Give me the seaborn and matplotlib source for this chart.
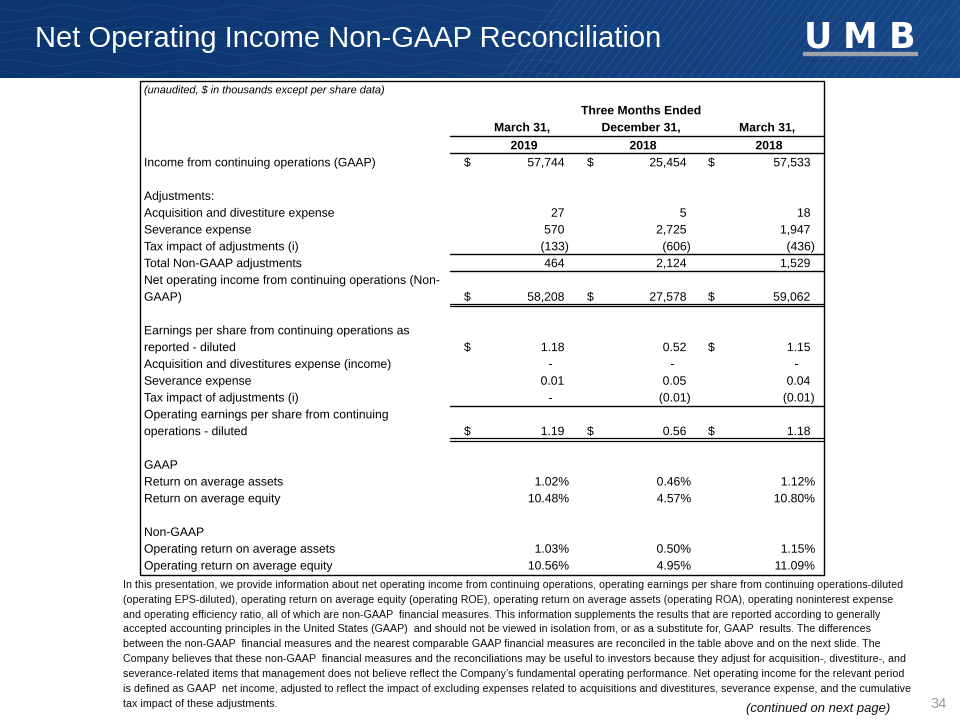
import numpy as np
import matplotlib
matplotlib.use("Agg")
import matplotlib.pyplot as plt
import matplotlib.patheffects as pe
import seaborn as sns
from matplotlib.patches import Rectangle

# ---------------- data ----------------
title = "Net Operating Income Non-GAAP Reconciliation"
unit_note = "(unaudited, $ in thousands except per share data)"
period_group = "Three Months Ended"
period_top = ["March 31,", "December 31,", "March 31,"]
period_year = ["2019", "2018", "2018"]

income_gaap = [57744, 25454, 57533]
acq_expense = [27, 5, 18]
severance_expense = [570, 2725, 1947]
tax_impact = [-133, -606, -436]
total_adjustments = [464, 2124, 1529]
net_operating_income = [58208, 27578, 59062]

eps_reported = [1.18, 0.52, 1.15]
eps_acq = [0.0, 0.0, 0.0]
eps_severance = [0.01, 0.05, 0.04]
eps_tax = [0.0, -0.01, -0.01]
operating_eps = [1.19, 0.56, 1.18]

roa = [1.02, 0.46, 1.12]
roe = [10.48, 4.57, 10.80]
op_roa = [1.03, 0.50, 1.15]
op_roe = [10.56, 4.95, 11.09]

footnote_lines = [
    "In this presentation, we provide information about net operating income from continuing operations, operating earnings per share from continuing operations-diluted",
    "(operating EPS-diluted), operating return on average equity (operating ROE), operating return on average assets (operating ROA), operating noninterest expense",
    "and operating efficiency ratio, all of which are non-GAAP  financial measures. This information supplements the results that are reported according to generally",
    "accepted accounting principles in the United States (GAAP)  and should not be viewed in isolation from, or as a substitute for, GAAP  results. The differences",
    "between the non-GAAP  financial measures and the nearest comparable GAAP financial measures are reconciled in the table above and on the next slide. The",
    "Company believes that these non-GAAP  financial measures and the reconciliations may be useful to investors because they adjust for acquisition-, divestiture-, and",
    "severance-related items that management does not believe reflect the Company\u2019s fundamental operating performance. Net operating income for the relevant period",
    "is defined as GAAP  net income, adjusted to reflect the impact of excluding expenses related to acquisitions and divestitures, severance expense, and the cumulative",
    "tax impact of these adjustments.",
]
continued = "(continued on next page)"
page_no = "34"
logo_letters = ["U", "M", "B"]

# ---------------- style ----------------
sns.set_theme(style="white")
plt.rcParams["font.family"] = ["Liberation Sans", "DejaVu Sans"]

W, H = 960, 720
fig = plt.figure(figsize=(9.6, 7.2), dpi=100)
ax = fig.add_axes([0, 0, 1, 1])
ax.set_xlim(0, W)
ax.set_ylim(H, 0)
ax.axis("off")

# banner
grad = np.linspace(0, 1, 256).reshape(1, -1)
cmap = matplotlib.colors.LinearSegmentedColormap.from_list("b", ["#0c356f", "#113d7a", "#164787"])
ax.imshow(grad, extent=(0, W, 78, 0), cmap=cmap, aspect="auto", zorder=0)
xs = np.linspace(0, 560, 400)
for k in range(7):
    ax.plot(xs, 8 + k * 11 + 3 * np.sin(xs / 14 + k * 0.8), color="#2f7a8c", lw=0.6, alpha=0.3, zorder=1)
for x0 in np.arange(560, 1060, 9):
    ax.plot([x0, x0 - 60], [0, 78], color="#4d77aa", lw=0.6, alpha=0.4, zorder=1)
ax.set_ylim(H, 0)
ax.set_xlim(0, W)
ax.text(35, 39, title, color="white", fontsize=21, va="center", ha="left", zorder=3)
for ch, cx in zip(logo_letters, [818, 860, 902.5]):
    ax.text(cx, 47.5, ch, color="white", fontsize=25, fontweight="bold", family="DejaVu Sans",
            ha="center", va="baseline", zorder=3)
ax.add_patch(Rectangle((803, 51.5), 114, 3.5, color="#9ea3ab", zorder=3))

# table frame
TL, TR, TT, TB = 140, 824, 81, 575
ax.add_patch(Rectangle((TL, TT), TR - TL, TB - TT, fill=False, ec="black", lw=1.0, zorder=2))

FS = 8.75
BL = 4.3  # baseline offset from row centre
txt = "#000000"
PE = [pe.Normal()]


def put(x, y, s, ha="left", **kw):
    kw.setdefault("fontsize", FS)
    kw.setdefault("color", txt)
    ax.text(x, y + BL, s, ha=ha, va="baseline", path_effects=PE, **kw)


put(TL + 4, 89, unit_note, fontsize=7.85, style="italic")
col_center = [522, 641, 767]
put(641, 110, period_group, ha="center", fontweight="bold")
for c, t, y in zip(col_center, period_top, period_year):
    put(c, 127, t, ha="center", fontweight="bold")
    put(c + 2, 145, y, ha="center", fontweight="bold")
LX0 = 450
ax.plot([LX0, TR], [136, 136], color="black", lw=1.0)
ax.plot([LX0, TR], [153, 153], color="black", lw=1.0)

Y0, RH = 162, 16.8


def ry(i):
    return Y0 + i * RH


dollar_x = [464, 587, 708]
right_x = [569, 691, 815]
PW = 4.5


def fmt_int(v):
    return f"({-v:,})" if v < 0 else f"{v:,}"


def fmt_dec(v):
    if v == 0:
        return "-"
    return f"({-v:.2f})" if v < 0 else f"{v:.2f}"


def draw_values(i, vals, fmt, dollars=(False, False, False), pct=False):
    y = ry(i)
    for j, v in enumerate(vals):
        if pct:
            s, x = f"{v:.2f}%", right_x[j]
        else:
            s = fmt(v)
            if s == "-":
                x = right_x[j] - PW - 12
            elif s.startswith("("):
                x = right_x[j]
            else:
                x = right_x[j] - PW
        put(x, y, s, ha="right")
        if dollars[j]:
            put(dollar_x[j], y, "$")


def label(i, s):
    put(TL + 4, ry(i), s)


ALL = (True, True, True)
label(0, "Income from continuing operations (GAAP)"); draw_values(0, income_gaap, fmt_int, ALL)
label(2, "Adjustments:")
label(3, "Acquisition and divestiture expense"); draw_values(3, acq_expense, fmt_int)
label(4, "Severance expense"); draw_values(4, severance_expense, fmt_int)
label(5, "Tax impact of adjustments (i)"); draw_values(5, tax_impact, fmt_int)
label(6, "Total Non-GAAP adjustments"); draw_values(6, total_adjustments, fmt_int)
label(7, "Net operating income from continuing operations (Non-"); label(8, "GAAP)")
draw_values(8, net_operating_income, fmt_int, ALL)
label(10, "Earnings per share from continuing operations as"); label(11, "reported - diluted")
draw_values(11, eps_reported, fmt_dec, (True, False, True))
label(12, "Acquisition and divestitures expense (income)"); draw_values(12, eps_acq, fmt_dec)
label(13, "Severance expense"); draw_values(13, eps_severance, fmt_dec)
label(14, "Tax impact of adjustments (i)"); draw_values(14, eps_tax, fmt_dec)
label(15, "Operating earnings per share from continuing"); label(16, "operations - diluted")
draw_values(16, operating_eps, fmt_dec, ALL)
label(18, "GAAP")
label(19, "Return on average assets"); draw_values(19, roa, None, pct=True)
label(20, "Return on average equity"); draw_values(20, roe, None, pct=True)
label(22, "Non-GAAP")
label(23, "Operating return on average assets"); draw_values(23, op_roa, None, pct=True)
label(24, "Operating return on average equity"); draw_values(24, op_roe, None, pct=True)

# rules
for i in (5, 6, 14):
    yy = ry(i) + RH / 2
    ax.plot([LX0, TR], [yy, yy], color="black", lw=1.0)
for i in (8, 16):
    yy = ry(i) + RH / 2 - 1
    ax.plot([LX0, TR], [yy, yy], color="black", lw=0.9)
    ax.plot([LX0, TR], [yy + 2.6, yy + 2.6], color="black", lw=0.9)

# footnote
for k, line in enumerate(footnote_lines):
    ax.text(123, 584 + k * 14.9 + 3.8, line, fontsize=7.7, va="baseline", ha="left", color="#111111")
ax.text(890, 712, continued, fontsize=9.4, style="italic", va="baseline", ha="right", color="#111111")
ax.text(939, 708, page_no, fontsize=10.5, va="baseline", ha="center", color="#9a9a9a")

fig.savefig("out.png", dpi=100)
